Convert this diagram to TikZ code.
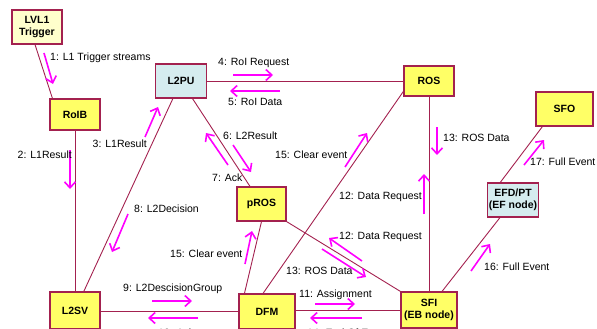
\documentclass[tikz,border=0pt]{standalone}
\usepackage{fontspec}
\setmainfont{Liberation Sans}
\usetikzlibrary{arrows.meta}

\definecolor{wine}{HTML}{A3214F}
\definecolor{boxyellow}{HTML}{FFFF66}
\definecolor{paleyellow}{HTML}{FFFFCC}
\definecolor{paleblue}{HTML}{D5ECEF}
\definecolor{msgpink}{HTML}{FF00FF}

\tikzset{ybox/.style = {shape = rectangle,
                        draw = wine,
                        line width = 1.1pt,
                        fill = boxyellow,
                        inner sep = 1pt,
                        align = center,
                        font = \fontsize{10.5}{12}\selectfont\bfseries},
         bbox/.style = {ybox, fill = paleblue},
         link/.style = {draw = wine, line width = 0.9pt},
         msg/.style = {draw = msgpink, line width = 1.6pt,
                       -{Straight Barb[length=6pt,width=11pt]}},
         mlabel/.style = {inner sep = 0pt,
                          font = \fontsize{10.5}{12}\selectfont}}

\begin{document}
\begin{tikzpicture}[x=1pt, y=-1pt]
		\useasboundingbox (0,0) rectangle (597,329);
		% boxes
		\node[ybox, fill = paleyellow, minimum width = 50, minimum height = 34] (trig) at (37,27) {LVL1\\Trigger};
		\node[ybox, minimum width = 50, minimum height = 31] (roib) at (75,114.5) {RoIB};
		\node[bbox, minimum width = 51, minimum height = 34] (l2pu) at (181,81) {L2PU};
		\node[ybox, minimum width = 50, minimum height = 30] (ros) at (429,81) {ROS};
		\node[ybox, minimum width = 57, minimum height = 34] (sfo) at (564.5,109) {SFO};
		\node[bbox, minimum width = 50, minimum height = 34] (efd) at (513,200) {EFD/PT\\(EF node)};
		\node[ybox, minimum width = 49, minimum height = 34] (pros) at (261.5,204) {pROS};
		\node[ybox, minimum width = 50, minimum height = 37] (l2sv) at (75,310.5) {L2SV};
		\node[ybox, minimum width = 56, minimum height = 35] (dfm) at (267,311.5) {DFM};
		\node[ybox, minimum width = 56, minimum height = 36] (sfi) at (429,310) {SFI\\(EB node)};
		% links
		\path[link] ([xshift=-2]trig.south) edge ([xshift=3]roib.north west);
		\path[link] (roib.south) edge (l2sv.north);
		\path[link] (l2pu.east) edge (ros.west);
		\path[link] (l2pu) edge (l2sv);
		\path[link] (l2pu) edge (pros);
		\path[link] (ros.-158) edge ([xshift=-4]dfm.north);
		\path[link] (ros.south) edge (sfi.north);
		\path[link] (pros.south) edge ([xshift=6]dfm.north west);
		\path[link] (pros.south east) edge (sfi.north west);
		\path[link] ([yshift=-1]l2sv.west -| l2sv.east) edge ([yshift=-1]l2sv.west -| dfm.west);
		\path[link] (dfm.east |- sfi.west) edge (sfi.west);
		\path[link] ([xshift=13]sfi.north) edge ([xshift=-13]efd.south);
		\path[link] ([xshift=13]efd.north west) edge ([xshift=7]sfo.south west);
		% messages
		\draw[msg] (44,53) -- (53,84);
		\node[mlabel, anchor=west] (m1) at (50,58) {1: L1 Trigger streams};
		\draw[msg] (70,150) -- (70,189);
		\node[mlabel, anchor=east] (m2) at (72,155) {2: L1Result};
		\draw[msg] (145,137) -- (158,107);
		\node[mlabel, anchor=east] (m3) at (147,144) {3: L1Result};
		\draw[msg] (233,75) -- (273,75);
		\node[mlabel, anchor=west] (m4) at (218,63) {4: RoI Request};
		\draw[msg] (280,91) -- (230,91);
		\node[mlabel, anchor=west] (m5) at (228,102) {5: RoI Data};
		\draw[msg] (233,145) -- (251,172);
		\node[mlabel, anchor=west] (m6) at (223,136) {6: L2Result};
		\draw[msg] (228,165) -- (206,133);
		\node[mlabel, anchor=west] (m7) at (212,178) {7: Ack};
		\draw[msg] (128,214) -- (112,252);
		\node[mlabel, anchor=west] (m8) at (134,209) {8: L2Decision};
		\draw[msg] (152,301) -- (192,301);
		\node[mlabel, anchor=west] (m9) at (123,289) {9: L2DescisionGroup};
		\draw[msg] (198,318) -- (148,318);
		\node[mlabel, anchor=west] (m10) at (158,333) {10: Ack};
		\draw[msg] (315,304) -- (355,304);
		\node[mlabel, anchor=west] (m11) at (299,295) {11: Assignment};
		\draw[msg] (424,214) -- (424,174);
		\node[mlabel, anchor=west] (m12a) at (339,197) {12: Data Request};
		\draw[msg] (362,261) -- (329,238);
		\node[mlabel, anchor=west] (m12b) at (339,237) {12: Data Request};
		\draw[msg] (437,127) -- (437,155);
		\node[mlabel, anchor=west] (m13a) at (443,138) {13: ROS Data};
		\draw[msg] (322,249) -- (366,277);
		\node[mlabel, anchor=west] (m13b) at (286,271) {13: ROS Data};
		\draw[msg] (362,318) -- (310,318);
		\node[mlabel, anchor=west] (m14) at (307,333) {14: End Of Event};
		\draw[msg] (345,167) -- (367,133);
		\node[mlabel, anchor=west] (m15a) at (275,155) {15: Clear event};
		\draw[msg] (245,264) -- (252,231);
		\node[mlabel, anchor=west] (m15b) at (170,254) {15: Clear event};
		\draw[msg] (471,271) -- (490,244);
		\node[mlabel, anchor=west] (m16) at (484,267) {16: Full Event};
		\draw[msg] (524,165) -- (544,140);
		\node[mlabel, anchor=west] (m17) at (530,162) {17: Full Event};
	\end{tikzpicture}
\end{document}
